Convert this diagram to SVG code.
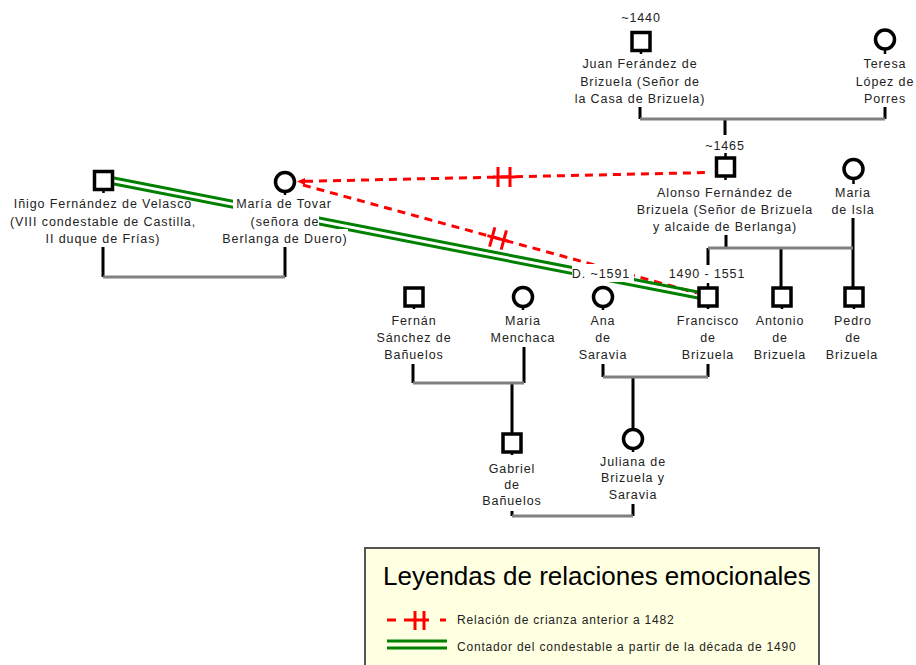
<svg xmlns="http://www.w3.org/2000/svg" width="916" height="665" viewBox="0 0 916 665">
<style>
.sq{fill:#fff;stroke:#000;stroke-width:3.5}
.ci{fill:#fff;stroke:#000;stroke-width:3.5}
.tk{stroke:#000;stroke-width:2.5}
.lbl{font-family:"Liberation Sans",Arial,sans-serif;font-size:12.5px;letter-spacing:0.9px;fill:#222;text-anchor:middle}
.kin{stroke:#000;stroke-width:3;fill:none}
.mar{stroke:#808080;stroke-width:3;fill:none}
.red{stroke:#f00;stroke-width:3;stroke-dasharray:8 6;fill:none}
.redsolid{stroke:#f00;stroke-width:3;fill:none}
.grn{stroke:#008000;stroke-width:3;fill:none}
.leg{font-family:"Liberation Sans",Arial,sans-serif;font-size:12px;letter-spacing:0.8px;fill:#222}
</style>
<defs>
<mask id="lblmask" maskUnits="userSpaceOnUse" x="0" y="0" width="916" height="665">
<rect x="0" y="0" width="916" height="665" fill="#fff"/>
<rect x="233" y="195" width="102" height="17" fill="#000"/>
<rect x="251" y="212" width="68" height="17" fill="#000"/>
<rect x="222" y="229" width="126" height="17" fill="#000"/>
<rect x="572" y="264" width="62" height="18" fill="#000"/>
<rect x="667" y="266" width="82" height="16" fill="#000"/>
</mask>
</defs>
<rect width="916" height="665" fill="#fff"/>

<g id="connectors">
<path class="kin" d="M640,107 V119 M885,107 V119 M725,119 V135"/>
<path class="mar" d="M640,119 H885"/>
<path class="kin" d="M726,235 V248 M853,218 V287 M708,248 V265 M781,248 V287"/>
<path class="mar" d="M708,248 H853"/>
<path class="kin" d="M103,247 V277 M285,247 V277"/>
<path class="mar" d="M103,277 H285"/>
<path class="kin" d="M413,364 V383 M524,347 V383 M512,383 V433"/>
<path class="mar" d="M413,383 H524"/>
<path class="kin" d="M603,364 V377 M708,364 V377 M633,377 V428"/>
<path class="mar" d="M603,377 H708"/>
<path class="kin" d="M512,511 V516 M633,504 V516"/>
<path class="mar" d="M512,516 H633"/>

<g id="emotional" mask="url(#lblmask)">
<polygon points="297,181.5 305,178 305,185" fill="#f00"/>
<path class="red" d="M305,181.3 L709,172.5"/>
<path class="red" d="M303,185 L697,293"/>
<g transform="translate(504,177)">
<path class="redsolid" d="M-11,0 H11"/>
<path class="redsolid" d="M-6,-10 V10 M6,-10 V10"/>
</g>
<g transform="translate(498,238.5) rotate(15.3)">
<path class="redsolid" d="M-11,0 H11"/>
<path class="redsolid" d="M-6,-10 V10 M6,-10 V10"/>
</g>
<path class="grn" d="M114,178 L698,292"/>
<path class="grn" d="M114,184 L698,298"/>
</g>
</g>

<g id="juan">
<text class="lbl" x="641" y="22">~1440</text>
<rect class="sq" x="632" y="32.5" width="18" height="18"/>
<path class="tk" d="M641,51 V54"/>
<text class="lbl" x="640" y="68">Juan Ferández de</text>
<text class="lbl" x="640" y="86">Brizuela (Señor de</text>
<text class="lbl" x="640" y="103">la Casa de Brizuela)</text>
</g>
<g id="teresa">
<circle class="ci" cx="885" cy="39.5" r="9.5"/>
<path class="tk" d="M885,50 V54"/>
<text class="lbl" x="885" y="68">Teresa</text>
<text class="lbl" x="885" y="86">López de</text>
<text class="lbl" x="885" y="103">Porres</text>
</g>
<g id="alonso">
<text class="lbl" x="725" y="150">~1465</text>
<path class="tk" d="M725.5,153 V158"/>
<rect class="sq" x="716.5" y="158" width="18" height="18"/>
<path class="tk" d="M725.5,176 V180"/>
<text class="lbl" x="725" y="197">Alonso Fernández de</text>
<text class="lbl" x="725" y="214">Brizuela (Señor de Brizuela</text>
<text class="lbl" x="725" y="231">y alcaide de Berlanga)</text>
</g>
<g id="maria-isla">
<circle class="ci" cx="853.5" cy="169" r="9.5"/>
<path class="tk" d="M853.5,179 V184"/>
<text class="lbl" x="853" y="197">Maria</text>
<text class="lbl" x="853" y="214">de Isla</text>
</g>
<g id="inigo">
<rect class="sq" x="94.5" y="171.5" width="18" height="18"/>
<path class="tk" d="M103.5,190 V193"/>
<text class="lbl" x="103" y="208">Iñigo Fernández de Velasco</text>
<text class="lbl" x="103" y="225.5">(VIII condestable de Castilla,</text>
<text class="lbl" x="103" y="243">II duque de Frías)</text>
</g>
<g id="maria-tovar">
<circle class="ci" cx="285" cy="182" r="9.5"/>
<path class="tk" d="M285,192 V195"/>
<text class="lbl" x="284" y="208">María de Tovar</text>
<text class="lbl" x="285" y="225.5">(señora de</text>
<text class="lbl" x="285" y="243">Berlanga de Duero)</text>
</g>
<g id="fernan">
<rect class="sq" x="405" y="288" width="18" height="18"/>
<path class="tk" d="M414,306 V309"/>
<text class="lbl" x="414" y="325">Fernán</text>
<text class="lbl" x="414" y="342">Sánchez de</text>
<text class="lbl" x="414" y="359">Bañuelos</text>
</g>
<g id="maria-menchaca">
<circle class="ci" cx="523" cy="297" r="9.5"/>
<path class="tk" d="M523,307 V310"/>
<text class="lbl" x="523" y="325">Maria</text>
<text class="lbl" x="523" y="342">Menchaca</text>
</g>
<g id="ana">
<text class="lbl" x="601" y="278">D. ~1591</text>
<circle class="ci" cx="603" cy="297" r="9.5"/>
<path class="tk" d="M603,307 V310"/>
<text class="lbl" x="603" y="325">Ana</text>
<text class="lbl" x="603" y="342">de</text>
<text class="lbl" x="603" y="359">Saravia</text>
</g>
<g id="francisco">
<text class="lbl" x="707" y="278">1490 - 1551</text>
<path class="tk" d="M708,283 V288"/>
<rect class="sq" x="699" y="288" width="18" height="18"/>
<path class="tk" d="M708,306 V309"/>
<text class="lbl" x="708" y="325">Francisco</text>
<text class="lbl" x="708" y="342">de</text>
<text class="lbl" x="708" y="359">Brizuela</text>
</g>
<g id="antonio">
<rect class="sq" x="773" y="288" width="18" height="18"/>
<path class="tk" d="M782,306 V309"/>
<text class="lbl" x="780" y="325">Antonio</text>
<text class="lbl" x="780" y="342">de</text>
<text class="lbl" x="780" y="359">Brizuela</text>
</g>
<g id="pedro">
<rect class="sq" x="845" y="288" width="18" height="18"/>
<path class="tk" d="M854,306 V309"/>
<text class="lbl" x="853" y="325">Pedro</text>
<text class="lbl" x="853" y="342">de</text>
<text class="lbl" x="852" y="359">Brizuela</text>
</g>
<g id="gabriel">
<rect class="sq" x="503" y="434" width="18" height="18"/>
<path class="tk" d="M512,452 V455"/>
<text class="lbl" x="512" y="473">Gabriel</text>
<text class="lbl" x="512" y="489">de</text>
<text class="lbl" x="512" y="505">Bañuelos</text>
</g>
<g id="juliana">
<circle class="ci" cx="633" cy="439" r="9.5"/>
<path class="tk" d="M633,449 V452"/>
<text class="lbl" x="633" y="466">Juliana de</text>
<text class="lbl" x="633" y="482">Brizuela y</text>
<text class="lbl" x="633" y="499">Saravia</text>
</g>

<g id="legend">
<rect x="365" y="548" width="454" height="125" fill="#ffffe1" stroke="#555" stroke-width="2"/>
<text x="383" y="585" font-family="'Liberation Sans',Arial,sans-serif" font-size="26" fill="#000">Leyendas de relaciones emocionales</text>
<path class="redsolid" d="M387,620 H396 M404,620 H412 M412,620 H429 M440,620 H446"/>
<path class="redsolid" d="M415,611 V630 M424,611 V630"/>
<text class="leg" x="457" y="624">Relación de crianza anterior a 1482</text>
<path class="grn" stroke-width="3.5" d="M387,641 H447 M387,648 H447"/>
<text class="leg" x="457" y="651">Contador del condestable a partir de la década de 1490</text>
</g>
</svg>
